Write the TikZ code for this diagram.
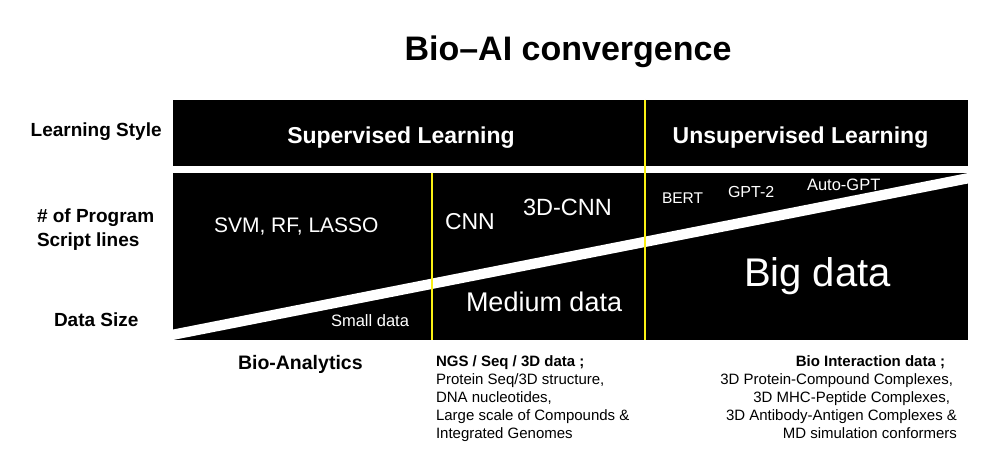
\documentclass[tikz,border=0pt]{standalone}
\usepackage{fontspec}
\setmainfont{Liberation Sans}
\definecolor{divyellow}{RGB}{250,240,20}
\begin{document}
\begin{tikzpicture}[x=1pt,y=-1pt,
  txt/.style={inner sep=0pt, outer sep=0pt},
  wtxt/.style={txt, text=white},
  bar/.style={fill=black},
  divider/.style={draw=divyellow, line width=2pt},
  band/.style={fill=white}]
\useasboundingbox (0,0) rectangle (1000,464);
\fill[white] (0,0) rectangle (1000,464);

% boxes
\path[bar] (173,99.5) rectangle (968,166);
\path[bar] (173,173) rectangle (968,340);
% diagonal white band
\path[band] (173,329.5) -- (968,173) -- (968,183.5) -- (173,340) -- cycle;
% dividers
\coordinate (d1t) at (431.7,173);
\coordinate (d1b) at (431.7,340);
\coordinate (d2t) at (645,99.5);
\coordinate (d2b) at (645,340);
\draw[divider] (d1t) -- (d1b);
\draw[divider] (d2t) -- (d2b);

% title
\node[txt, anchor=base, font=\bfseries\fontsize{34pt}{40pt}\selectfont] (title) at (568,60) {Bio–AI convergence};

% header bar
\node[wtxt, anchor=base, font=\bfseries\fontsize{23pt}{27pt}\selectfont] (sup) at (401,143) {Supervised Learning};
\node[wtxt, anchor=base, font=\bfseries\fontsize{23pt}{27pt}\selectfont] (unsup) at (800.5,143) {Unsupervised Learning};

% left labels
\node[txt, anchor=base west, font=\bfseries\fontsize{19pt}{23pt}\selectfont] (ls) at (30.7,136) {Learning Style};
\node[txt, anchor=base west, font=\bfseries\fontsize{19pt}{23pt}\selectfont] (psl1) at (37,222.7) {\# of Program};
\node[txt, anchor=base west, font=\bfseries\fontsize{19pt}{23pt}\selectfont] (psl2) at (37,246.7) {Script lines};
\node[txt, anchor=base west, font=\bfseries\fontsize{19pt}{23pt}\selectfont] (ds) at (54,326) {Data Size};

% inside lower box
\node[wtxt, anchor=base west, font=\fontsize{21pt}{25pt}\selectfont] (svm) at (214,232.7) {SVM, RF, LASSO};
\node[wtxt, anchor=base west, font=\fontsize{23pt}{27pt}\selectfont] (cnn) at (445,229.3) {CNN};
\node[wtxt, anchor=base west, font=\fontsize{23.5pt}{27pt}\selectfont] (cnn3) at (523,215) {3D-CNN};
\node[wtxt, anchor=base west, font=\fontsize{16.5pt}{20pt}\selectfont] (small) at (331,326.7) {Small data};
\node[wtxt, anchor=base west, font=\fontsize{27pt}{32pt}\selectfont] (medium) at (466,311.7) {Medium data};
\node[wtxt, anchor=base west, font=\fontsize{15.5pt}{19pt}\selectfont] (bert) at (662,203.3) {BERT};
\node[wtxt, anchor=base west, font=\fontsize{16pt}{19pt}\selectfont] (gpt2) at (728,197.3) {GPT-2};
\node[wtxt, anchor=base west, font=\fontsize{16.5pt}{19pt}\selectfont] (autogpt) at (807,190) {Auto-GPT};
\node[wtxt, anchor=base west, font=\fontsize{40pt}{46pt}\selectfont] (big) at (744,286.7) {Big data};

% bottom labels
\node[txt, anchor=base west, font=\bfseries\fontsize{19.5pt}{23pt}\selectfont] (bioan) at (238,369.3) {Bio-Analytics};

\node[txt, anchor=base west, font=\bfseries\fontsize{15pt}{18pt}\selectfont] (ngs0) at (436,366) {NGS / Seq / 3D data ;};
\node[txt, anchor=base west, font=\fontsize{15pt}{18pt}\selectfont] (ngs1) at (436,384) {Protein Seq/3D structure,};
\node[txt, anchor=base west, font=\fontsize{15pt}{18pt}\selectfont] (ngs2) at (436,402) {DNA nucleotides,};
\node[txt, anchor=base west, font=\fontsize{15pt}{18pt}\selectfont] (ngs3) at (436,420) {Large scale of Compounds \&};
\node[txt, anchor=base west, font=\fontsize{15pt}{18pt}\selectfont] (ngs4) at (436,438) {Integrated Genomes};

\node[txt, anchor=base east, font=\bfseries\fontsize{15pt}{18pt}\selectfont] (bi0) at (945,366) {Bio Interaction data ;};
\node[txt, anchor=base east, font=\fontsize{15pt}{18pt}\selectfont] (bi1) at (953,384) {3D Protein-Compound Complexes,};
\node[txt, anchor=base east, font=\fontsize{15pt}{18pt}\selectfont] (bi2) at (950,402) {3D MHC-Peptide Complexes,};
\node[txt, anchor=base east, font=\fontsize{15pt}{18pt}\selectfont] (bi3) at (957,420) {3D Antibody-Antigen Complexes \&};
\node[txt, anchor=base east, font=\fontsize{15pt}{18pt}\selectfont] (bi4) at (957,438) {MD simulation conformers};
\end{tikzpicture}
\end{document}
